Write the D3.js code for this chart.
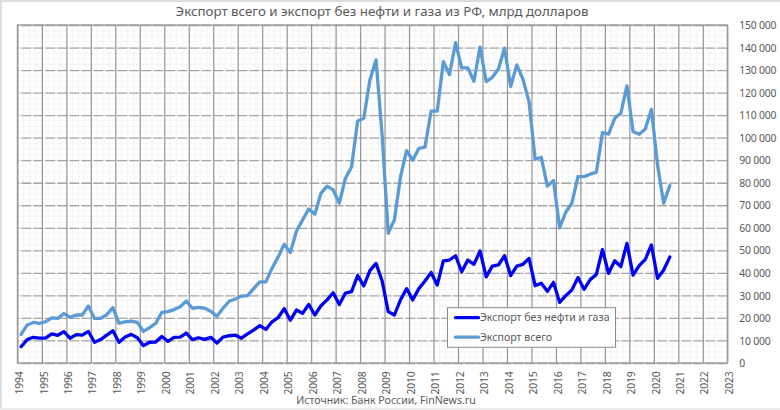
<!DOCTYPE html>
<html>
<head>
<meta charset="utf-8">
<script src="https://cdn.jsdelivr.net/npm/d3@7"></script>
<style>
  html, body { margin: 0; padding: 0; background: #fff; }
  svg { display: block; }
  text { font-family: "Noto Sans", sans-serif; fill: #595959; }
</style>
</head>
<body>
<script>
var titleText = "Экспорт всего и экспорт без нефти и газа из РФ, млрд долларов";
var sourceText = "Источник: Банк России, FinNews.ru";

var firstYear = 1994, lastYear = 2023;

// quarterly, mln usd (1994 Q1 - 2020 Q3)
var exportTotal = [
  12700, 16900, 18000, 17600,
  18300, 20000, 19800, 21900,
  20300, 21300, 21300, 25300,
  19800, 19800, 21400, 24600,
  17600, 18300, 18600, 18000,
  14000, 15700, 17600, 22500,
  22800, 23700, 25000, 27500,
  24300, 24700, 24300, 23000,
  20700, 24300, 27400, 28400,
  29700, 29900, 33000, 36000,
  36000, 42000, 47000, 52700,
  49000, 58600, 63500, 68300,
  66000, 75300, 78500, 76800,
  71000, 82000, 87000, 107400,
  108600, 125600, 134500, 101000,
  57500, 63500, 82700, 94200,
  90000, 95300, 95800, 111800,
  111800, 133700, 128000, 142200,
  131000, 131000, 125000, 140200,
  124900, 126800, 130500, 139700,
  122700, 132300, 126000, 116000,
  90400, 91300, 78500, 81000,
  60000, 66900, 70900, 82700,
  82700, 83800, 84700, 102200,
  101600, 108600, 110800, 123000,
  102700, 101500, 103800, 112500,
  88000, 70900, 78700
];

var exportNonOil = [
  7200, 10400, 11400, 11000,
  11000, 12900, 12300, 13900,
  11000, 12600, 12400, 14000,
  9200, 10400, 12400, 14300,
  9200, 11500, 12700, 11200,
  7700, 9200, 9300, 11800,
  9600, 11400, 11500, 13300,
  10400, 11200, 10500, 11400,
  8900, 11500, 12100, 12400,
  11000, 12900, 14600, 16600,
  14900, 18300, 20100, 24100,
  19000, 23500, 22000, 26000,
  21300, 25400, 28000, 31200,
  26000, 31000, 31700, 38800,
  34200, 41000, 44200, 36400,
  22800, 21300, 28000, 33000,
  28000, 33000, 36400, 40200,
  34600, 45300, 45700, 47600,
  40500, 45700, 43800, 49700,
  38200, 43000, 43500, 47600,
  38800, 43000, 43800, 46400,
  34300, 35400, 31800, 35800,
  26900, 29900, 32400, 37900,
  32700, 37000, 39300, 50300,
  39800, 45400, 42800, 53100,
  39000, 43200, 46000, 52400,
  37600, 41300, 47000
];

var legendLabels = ["Экспорт без нефти и газа", "Экспорт всего"];
var colorNonOil = "#0000f5", colorTotal = "#5b9bd5";

var width = 780, height = 410;
var margin = {top: 25, right: 52.7, bottom: 47, left: 17.4};

var svg = d3.select("body").append("svg")
    .attr("width", width)
    .attr("height", height);

// grey picture frame on the edges
svg.append("rect").attr("x", 0).attr("y", 0).attr("width", width).attr("height", 2).attr("fill", "#dcdcdc");
svg.append("rect").attr("x", 0).attr("y", 0).attr("width", 2).attr("height", height).attr("fill", "#dcdcdc");
svg.append("rect").attr("x", 0).attr("y", height - 2).attr("width", width).attr("height", 2).attr("fill", "#ececec");

var xScale = d3.scaleLinear()
    .domain([firstYear, lastYear])
    .range([margin.left, width - margin.right]);

var yScale = d3.scaleLinear()
    .domain([0, 150000])
    .range([height - margin.bottom, margin.top]);

var years = d3.range(firstYear, lastYear + 1);
var quarters = d3.range(firstYear, lastYear + 0.01, 0.25);
var minorY = d3.range(0, 150001, 2500);

// minor grid
svg.append("g").selectAll("line").data(quarters).enter().append("line")
    .attr("x1", function (d) { return xScale(d); })
    .attr("x2", function (d) { return xScale(d); })
    .attr("y1", yScale(0))
    .attr("y2", yScale(150000))
    .attr("stroke", "#f4f4f4")
    .attr("stroke-width", 1);

svg.append("g").selectAll("line").data(minorY).enter().append("line")
    .attr("x1", xScale(firstYear))
    .attr("x2", xScale(lastYear))
    .attr("y1", function (d) { return yScale(d); })
    .attr("y2", function (d) { return yScale(d); })
    .attr("stroke", "#f4f4f4")
    .attr("stroke-width", 1);

// major grid, horizontal dashed
var yAxis = d3.axisRight(yScale)
    .tickValues(d3.range(0, 150001, 10000))
    .tickSize(xScale(firstYear) - xScale(lastYear))
    .tickPadding(0)
    .tickFormat(function (d) { return d3.format(",")(d).replace(/,/g, " "); });

var yG = svg.append("g")
    .attr("transform", "translate(" + xScale(lastYear) + ",0)")
    .call(yAxis);
yG.select(".domain").remove();
yG.selectAll("line")
    .attr("stroke", "#a6a6a6")
    .attr("stroke-width", 1.3)
    .style("stroke-dasharray", "10, 2");
yG.selectAll("text")
    .attr("x", 12)
    .attr("dy", "0.35em")
    .attr("text-anchor", "start")
    .style("font-size", "10.4px")
    .style("letter-spacing", "-0.2px");

// major grid, vertical solid
var xAxis = d3.axisBottom(xScale)
    .tickValues(years)
    .tickSize(yScale(150000) - yScale(0))
    .tickFormat(d3.format("d"));

var xG = svg.append("g")
    .attr("transform", "translate(0," + yScale(0) + ")")
    .call(xAxis);
xG.select(".domain").remove();
xG.selectAll("line")
    .attr("stroke", "#969696")
    .attr("stroke-width", 1.2);
xG.selectAll("text")
    .attr("transform", "translate(1.5,20) rotate(-90)")
    .attr("x", 0)
    .attr("y", 0)
    .attr("dy", "0.35em")
    .attr("text-anchor", "middle")
    .style("font-size", "10.4px")
    .style("letter-spacing", "-0.2px");

// plot border
svg.append("rect")
    .attr("x", xScale(firstYear))
    .attr("y", yScale(150000))
    .attr("width", xScale(lastYear) - xScale(firstYear))
    .attr("height", yScale(0) - yScale(150000))
    .attr("fill", "none")
    .attr("stroke", "#969696")
    .attr("stroke-width", 1.2);

// points sit in the middle of their quarter (a bit right of it in the picture)
var line = d3.line()
    .x(function (d, i) { return xScale(firstYear + (i + 0.6) / 4); })
    .y(function (d) { return yScale(d); });

svg.append("path")
    .datum(exportTotal)
    .attr("d", line)
    .attr("fill", "none")
    .attr("stroke", colorTotal)
    .attr("stroke-width", 3.3)
    .attr("stroke-linecap", "round")
    .attr("stroke-linejoin", "round");

svg.append("path")
    .datum(exportNonOil)
    .attr("d", line)
    .attr("fill", "none")
    .attr("stroke", colorNonOil)
    .attr("stroke-width", 3.3)
    .attr("stroke-linecap", "round")
    .attr("stroke-linejoin", "round");

// legend
var legend = svg.append("g").attr("transform", "translate(447.5,307.7)");
legend.append("rect")
    .attr("width", 168)
    .attr("height", 39.6)
    .attr("fill", "#fff")
    .attr("stroke", "#8c8c8c")
    .attr("stroke-width", 1);

var legendColors = [colorNonOil, colorTotal];
var legendRows = legend.selectAll(".row").data(legendLabels).enter().append("g")
    .attr("class", "row")
    .attr("transform", function (d, i) { return "translate(0," + (10 + i * 19.5) + ")"; });
legendRows.append("line")
    .attr("x1", 8)
    .attr("x2", 31)
    .attr("stroke", function (d, i) { return legendColors[i]; })
    .attr("stroke-width", 3.3)
    .attr("stroke-linecap", "round");
legendRows.append("text")
    .attr("x", 32.5)
    .attr("dy", "0.35em")
    .style("font-size", "10.6px")
    .text(function (d) { return d; });

svg.append("text")
    .attr("x", 382)
    .attr("y", 16)
    .attr("text-anchor", "middle")
    .style("font-size", "13.3px")
    .text(titleText);

svg.append("text")
    .attr("x", 386)
    .attr("y", 404)
    .attr("text-anchor", "middle")
    .style("font-size", "10.6px")
    .text(sourceText);
</script>
</body>
</html>
